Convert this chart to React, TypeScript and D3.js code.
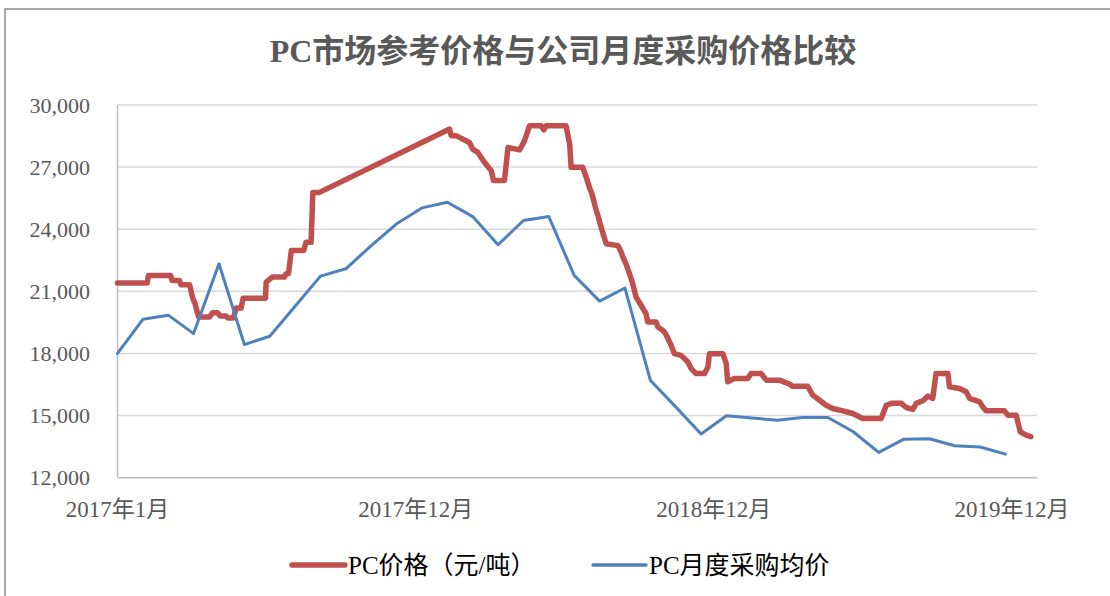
import React from "react";
import * as d3 from "d3";

const title = "PC市场参考价格与公司月度采购价格比较";
const yTicks = [12000, 15000, 18000, 21000, 24000, 27000, 30000];
const xTickLabels = ["2017年1月", "2017年12月", "2018年12月", "2019年12月"];
const xTickPos = [0, 11.75, 23.5, 35.25];

// monthly average purchase price, 2017-01 .. 2019-12 (month index 0..35)
const blueValues = [
  18000, 19650, 19850, 18960, 22330, 18430, 18830, 20280, 21735, 22090, 23210, 24260,
  25030, 25300, 24610, 23250, 24420, 24610, 21770, 20530, 21160, 16710, 15420, 14110,
  14990, 14880, 14780, 14910, 14910, 14220, 13220, 13860, 13880, 13540, 13480, 13140,
];

// market reference price: position (month units) and value
const redPos = [
  0, 1.17, 1.22, 2.09, 2.15, 2.44, 2.5, 2.84, 2.97, 3.05, 3.2, 3.63, 3.75, 3.94, 4.05, 4.28,
  4.35, 4.57, 4.68, 4.87, 4.95, 5.83, 5.86, 6.1, 6.58, 6.64, 6.74, 6.85, 7.34, 7.43, 7.63, 7.7,
  7.96, 13.09, 13.15, 13.34, 13.87, 14.0, 14.2, 14.46, 14.73, 14.82, 15.25, 15.39, 15.85, 16.04,
  16.24, 16.7, 16.8, 16.9, 17.68, 17.82, 17.88, 18.34, 18.45, 18.6, 18.7, 18.87, 18.95, 19.06,
  19.26, 19.72, 19.85, 19.92, 20.05, 20.18, 20.3, 20.44, 20.6, 20.83, 20.9, 21.23, 21.3, 21.49,
  21.6, 21.82, 21.95, 22.21, 22.3, 22.48, 22.61, 22.8, 23.14,
  23.27, 23.33, 23.86, 23.99, 24.05, 24.31, 24.84, 24.97, 25.37, 25.57, 26.09, 26.49, 26.6, 27.2,
  27.4, 27.67, 27.93, 28.19, 28.59, 28.98, 29.37, 30.1, 30.3, 30.5, 30.89, 31.08, 31.35, 31.48,
  31.74, 31.94, 32.13, 32.26, 32.73, 32.79, 33.19, 33.45, 33.58, 33.98, 34.1, 34.24, 34.96, 35.09,
  35.42, 35.58, 35.81, 36.0,
];
const redValues = [
  21400, 21400, 21770, 21770, 21530, 21530, 21320, 21320, 20650, 20430, 19760, 19760, 19970, 19970, 19810, 19810,
  19710, 19710, 20190, 20190, 20670, 20670, 21450, 21690, 21690, 21850, 21850, 22970, 22970, 23370, 23370, 25780,
  25780, 28840, 28520, 28520, 28190, 27870, 27710, 27230, 26830, 26350, 26350, 27950, 27830, 28270,
  29000, 29000, 28800, 29000, 29000, 28120, 26990, 26990, 26600, 26020, 25700, 24900, 24600, 24100,
  23300, 23210, 22900, 22650, 22300, 21850, 21400, 20720, 20400, 19920, 19520, 19520, 19280, 19120,
  18960, 18400, 17990, 17910, 17800, 17590, 17270, 17030, 17030,
  17350, 17990, 17990, 17510, 16630, 16790, 16790, 17030, 17030, 16710, 16710, 16520, 16420, 16420,
  15990, 15740, 15500, 15340, 15230, 15100, 14860, 14860, 15500, 15590, 15590, 15390, 15300, 15590,
  15720, 15940, 15830, 17030, 17030, 16390, 16310, 16150, 15830, 15660, 15420, 15230, 15230, 15020,
  15020, 14220, 14060, 13980,
];

const legendItems = [
  { label: "PC价格（元/吨）", color: "#C0504D", width: 5.5 },
  { label: "PC月度采购均价", color: "#4F81BD", width: 3.5 },
];

export default function App() {
  const W = 1110;
  const H = 596;
  const left = 117.5;
  const right = 1037;
  const top = 105;
  const bottom = 477.7;

  const x = d3.scaleLinear().domain([0, 36.24]).range([left, right]);
  const y = d3.scaleLinear().domain([12000, 30000]).range([bottom, top]);

  const redData = redPos.map((p, i) => [p, redValues[i]] as [number, number]);
  const blueData = blueValues.map((v, i) => [i, v] as [number, number]);
  const line = d3
    .line<[number, number]>()
    .x((d) => x(d[0]))
    .y((d) => y(d[1]));

  const fmt = d3.format(",");
  const serif = "'Liberation Serif', 'Times New Roman', 'Noto Sans CJK SC', serif";

  return (
    <svg
      width={W}
      height={H}
      style={{ position: "absolute", left: 0, top: 0, background: "#fff" }}
    >
      <rect x={0} y={0} width={W} height={H} fill="#fff" />
      <rect x={5} y={9} width={1300} height={800} fill="none" stroke="#8a8a8a" strokeWidth={1.5} />
      <text
        x={563}
        y={62}
        textAnchor="middle"
        fontFamily={serif}
        fontWeight="bold"
        fontSize={32}
        fill="#595959"
      >
        {title}
      </text>
      {yTicks.map((t) => (
        <g key={t}>
          {t !== 12000 && (
            <line x1={left} x2={right} y1={y(t)} y2={y(t)} stroke="#D9D9D9" strokeWidth={1.5} />
          )}
          <text
            x={90}
            y={y(t)}
            dy="0.35em"
            textAnchor="end"
            fontFamily={serif}
            fontSize={22}
            fill="#595959"
          >
            {fmt(t)}
          </text>
        </g>
      ))}
      <line x1={left} x2={left} y1={top} y2={bottom} stroke="#BFBFBF" strokeWidth={1.5} />
      <line x1={left} x2={right} y1={bottom} y2={bottom} stroke="#BFBFBF" strokeWidth={1.5} />
      {xTickLabels.map((l, i) => (
        <text
          key={l}
          x={x(xTickPos[i])}
          y={517}
          textAnchor="middle"
          fontFamily={serif}
          fontSize={23}
          fill="#595959"
        >
          {l}
        </text>
      ))}
      <path
        d={line(redData) || ""}
        fill="none"
        stroke="#C0504D"
        strokeWidth={5.5}
        strokeLinejoin="round"
        strokeLinecap="round"
      />
      <path
        d={line(blueData) || ""}
        fill="none"
        stroke="#4F81BD"
        strokeWidth={3}
        strokeLinejoin="round"
        strokeLinecap="round"
      />
      {legendItems.map((it, i) => {
        const lx = i === 0 ? 292 : 593;
        return (
          <g key={it.label}>
            <line
              x1={lx}
              x2={lx + 53}
              y1={565}
              y2={565}
              stroke={it.color}
              strokeWidth={it.width}
              strokeLinecap="round"
            />
            <text x={lx + 56} y={574} fontFamily={serif} fontSize={25} fill="#000">
              {it.label}
            </text>
          </g>
        );
      })}
    </svg>
  );
}
